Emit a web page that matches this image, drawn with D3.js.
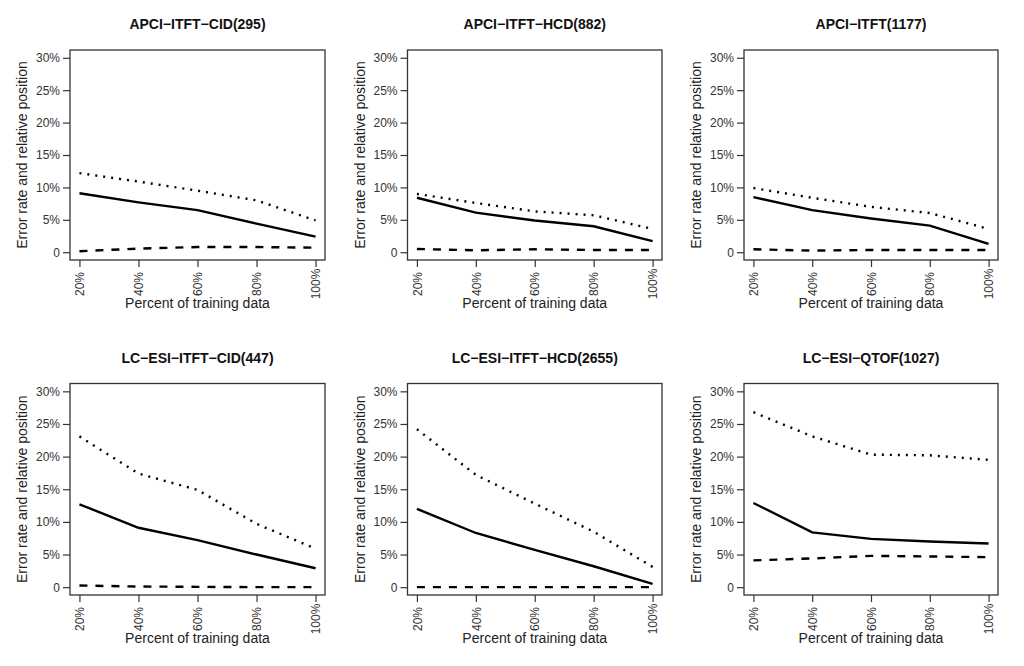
<!DOCTYPE html>
<html>
<head>
<meta charset="utf-8">
<script src="https://cdn.jsdelivr.net/npm/d3@7"></script>
<style>
  body { margin: 0; background: #fff; }
  svg { display: block; font-family: "Liberation Sans", Arial, sans-serif; }
</style>
</head>
<body>
<svg id="chart" width="1024" height="666"></svg>
<script>
// panel titles, row by row
const panelTitles = ["APCI\u2212ITFT\u2212CID(295)", "APCI\u2212ITFT\u2212HCD(882)", "APCI\u2212ITFT(1177)",
                     "LC\u2212ESI\u2212ITFT\u2212CID(447)", "LC\u2212ESI\u2212ITFT\u2212HCD(2655)", "LC\u2212ESI\u2212QTOF(1027)"];

const trainingPct = [20, 40, 60, 80, 100];
const xTickLabels = ["20%", "40%", "60%", "80%", "100%"];
const yTicks = [0, 5, 10, 15, 20, 25, 30];
const yTickLabels = ["0", "5%", "10%", "15%", "20%", "25%", "30%"];

// solid line (percent)
const solidSeries = [
  [9.1, 7.7, 6.5, 4.4, 2.4],
  [8.4, 6.1, 4.9, 4.0, 1.7],
  [8.5, 6.5, 5.2, 4.1, 1.3],
  [12.7, 9.1, 7.2, 5.0, 2.9],
  [12.0, 8.3, 5.7, 3.2, 0.5],
  [12.9, 8.4, 7.4, 7.0, 6.7]
];
// dotted line
const dottedSeries = [
  [12.2, 10.9, 9.5, 8.0, 4.9],
  [9.0, 7.6, 6.3, 5.7, 3.6],
  [9.9, 8.4, 7.0, 6.05, 3.6],
  [23.1, 17.4, 14.9, 9.7, 5.9],
  [24.2, 17.2, 12.8, 8.5, 3.1],
  [26.8, 23.1, 20.3, 20.2, 19.5]
];
// dashed line
const dashedSeries = [
  [0.15, 0.56, 0.8, 0.8, 0.7],
  [0.5, 0.3, 0.45, 0.35, 0.35],
  [0.45, 0.25, 0.35, 0.35, 0.35],
  [0.25, 0.1, 0.05, 0.0, 0.0],
  [0.0, 0.0, 0.0, 0.0, 0.0],
  [4.1, 4.4, 4.8, 4.7, 4.6]
];

const colLeft = [70, 407.5, 744];
const colRight = [325, 662, 998];
const rowTop = [50, 383.5];
const rowBottom = [260, 595];

const svg = d3.select("#chart");

panelTitles.forEach(function(title, i) {
  var r = Math.floor(i / 3), c = i % 3;
  var x0 = colLeft[c], x1 = colRight[c], y0 = rowTop[r], y1 = rowBottom[r];

  var x = d3.scaleLinear().domain([16.8, 103.2]).range([x0, x1]);
  var y = d3.scaleLinear().domain([-1.2, 31.2]).range([y1, y0]);

  var g = svg.append("g");

  // title
  g.append("text")
    .attr("x", (x0 + x1) / 2)
    .attr("y", y0 - 21)
    .attr("text-anchor", "middle")
    .attr("font-size", 14)
    .attr("font-weight", "bold")
    .attr("fill", "#111")
    .text(title);

  // y axis
  var yAxis = g.append("g")
    .attr("transform", "translate(" + x0 + ",0)")
    .call(d3.axisLeft(y).tickValues(yTicks).tickSize(7).tickPadding(3)
      .tickFormat(function(d, k) { return yTickLabels[k]; }));
  yAxis.select(".domain").remove();
  yAxis.selectAll("line").attr("stroke", "#333").attr("stroke-width", 1.2);
  yAxis.selectAll("text").attr("font-size", 12).attr("fill", "#333")
    .attr("font-family", "Liberation Sans, Arial, sans-serif");

  // x axis
  var xAxis = g.append("g")
    .attr("transform", "translate(0," + y1 + ")")
    .call(d3.axisBottom(x).tickValues(trainingPct).tickSize(7)
      .tickFormat(function(d, k) { return xTickLabels[k]; }));
  xAxis.select(".domain").remove();
  xAxis.selectAll("line").attr("stroke", "#333").attr("stroke-width", 1.2);
  xAxis.selectAll("text")
    .attr("font-size", 12).attr("fill", "#333")
    .attr("font-family", "Liberation Sans, Arial, sans-serif")
    .attr("y", 0).attr("dy", "0.35em")
    .attr("text-anchor", "middle")
    .attr("transform", "translate(0,24) rotate(-90)");

  // axis titles
  g.append("text")
    .attr("x", (x0 + x1) / 2)
    .attr("y", y1 + 48)
    .attr("text-anchor", "middle")
    .attr("font-size", 14)
    .attr("fill", "#222")
    .text("Percent of training data");

  g.append("text")
    .attr("transform", "translate(" + (x0 - 43) + "," + ((y0 + y1) / 2) + ") rotate(-90)")
    .attr("text-anchor", "middle")
    .attr("font-size", 14)
    .attr("fill", "#222")
    .text("Error rate and relative position");

  // lines
  var line = d3.line()
    .x(function(d, k) { return x(trainingPct[k]); })
    .y(function(d) { return y(d); });

  g.append("path").datum(dottedSeries[i])
    .attr("d", line).attr("fill", "none")
    .attr("stroke", "#000").attr("stroke-width", 2.4)
    .attr("stroke-dasharray", "2,6");

  g.append("path").datum(solidSeries[i])
    .attr("d", line).attr("fill", "none")
    .attr("stroke", "#000").attr("stroke-width", 2.4);

  g.append("path").datum(dashedSeries[i])
    .attr("d", line).attr("fill", "none")
    .attr("stroke", "#000").attr("stroke-width", 2.4)
    .attr("stroke-dasharray", "8,8");

  // box
  g.append("rect")
    .attr("x", x0).attr("y", y0)
    .attr("width", x1 - x0).attr("height", y1 - y0)
    .attr("fill", "none")
    .attr("stroke", "#333").attr("stroke-width", 1.3);
});
</script>
</body>
</html>
